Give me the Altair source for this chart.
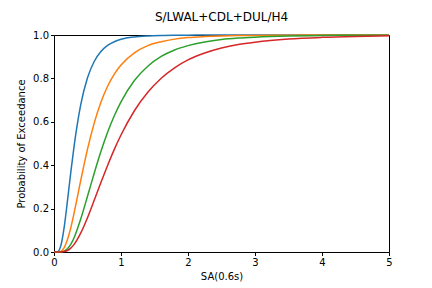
import altair as alt
import pandas as pd

# Intensity measure values SA(0.6s) [g]
sa = [0.0, 0.05, 0.1, 0.15, 0.2, 0.25, 0.3, 0.4, 0.5, 0.6, 0.7, 0.8, 0.9, 1.0,
      1.2, 1.4, 1.6, 1.8, 2.0, 2.25, 2.5, 2.75, 3.0, 3.5, 4.0, 4.5, 5.0]

# Probability of exceedance for each damage state
ds1 = [0.0, 0.001, 0.027, 0.110, 0.233, 0.366, 0.488, 0.680, 0.803, 0.878, 0.924, 0.952, 0.969, 0.980,
       0.991, 0.9957, 0.9979, 0.9989, 0.9994, 0.9997, 0.9999, 1.0, 1.0, 1.0, 1.0, 1.0, 1.0]
ds2 = [0.0, 0.0, 0.003, 0.019, 0.056, 0.111, 0.180, 0.331, 0.474, 0.594, 0.690, 0.764, 0.820, 0.862,
       0.918, 0.951, 0.969, 0.981, 0.988, 0.9927, 0.9956, 0.9973, 0.9982, 0.9993, 0.9997, 0.9999, 1.0]
ds3 = [0.0, 0.0, 0.0004, 0.004, 0.015, 0.035, 0.066, 0.153, 0.257, 0.363, 0.463, 0.552, 0.628, 0.692,
       0.790, 0.856, 0.901, 0.931, 0.951, 0.968, 0.979, 0.9857, 0.990, 0.9952, 0.9975, 0.9987, 0.9993]
ds4 = [0.0, 0.0, 0.0002, 0.0018, 0.007, 0.018, 0.035, 0.088, 0.158, 0.238, 0.320, 0.399, 0.473, 0.539,
       0.651, 0.736, 0.801, 0.849, 0.885, 0.917, 0.940, 0.956, 0.967, 0.9816, 0.9892, 0.9935, 0.996]

series = ["DS1", "DS2", "DS3", "DS4"]
colors = ["#1f77b4", "#ff7f0e", "#2ca02c", "#d62728"]

rows = []
for name, vals in zip(series, [ds1, ds2, ds3, ds4]):
    for i, (x, y) in enumerate(zip(sa, vals)):
        rows.append({"sa": x, "p": y, "ds": name, "order": i})
df = pd.DataFrame(rows)

font = "DejaVu Sans"

chart = alt.Chart(df).mark_line(strokeWidth=1.5, interpolate="monotone").encode(
    x=alt.X("sa:Q", title="SA(0.6s)",
            scale=alt.Scale(domain=[0, 5], nice=False, zero=False),
            axis=alt.Axis(values=[0, 1, 2, 3, 4, 5], format="d", grid=False,
                          tickSize=3.5, labelPadding=2, titlePadding=4,
                          domain=False, labelFlush=False)),
    y=alt.Y("p:Q", title="Probability of Exceedance",
            scale=alt.Scale(domain=[0, 1], nice=False),
            axis=alt.Axis(values=[0, 0.2, 0.4, 0.6, 0.8, 1.0], format=".1f", grid=False,
                          tickSize=3.5, labelPadding=2, titlePadding=6,
                          domain=False, labelFlush=False)),
    color=alt.Color("ds:N", scale=alt.Scale(domain=series, range=colors), legend=None),
    order="order:Q",
).properties(
    width=335,
    height=217,
    title=alt.TitleParams("S/LWAL+CDL+DUL/H4", fontSize=12, font=font,
                          fontWeight="normal", color="black", offset=6),
    autosize=alt.AutoSizeParams(type="none"),
    padding={"left": 54, "top": 35, "right": 43, "bottom": 36},
).configure_view(
    stroke="black", strokeWidth=1
).configure_axis(
    labelFont=font, titleFont=font, labelFontSize=10, titleFontSize=10,
    labelColor="black", titleColor="black", tickColor="black",
    titleFontWeight="normal"
)

chart.save("out.html", embed_options={"renderer": "svg", "actions": False})
